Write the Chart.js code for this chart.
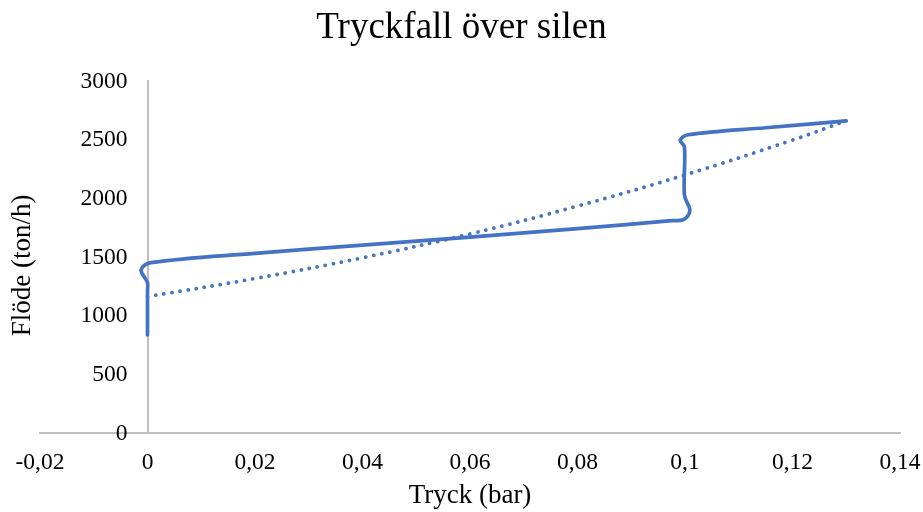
<!DOCTYPE html>
<html>
<head>
<meta charset="utf-8">
<script src="https://cdn.jsdelivr.net/npm/chart.js@4"></script>
<style>
html,body{margin:0;padding:0;background:#fff;}
#wrap{width:923px;height:512px;}
</style>
</head>
<body>
<div id="wrap"><canvas id="c" width="923" height="512"></canvas></div>
<script>
const chartTitle = 'Tryckfall över silen';
const xTitle = 'Tryck (bar)';
const yTitle = 'Flöde (ton/h)';

// Measured series (Tryck in bar, Flöde in ton/h)
const flowX = [0, 0, 0, -0.0012, 0.0006, 0.02, 0.04, 0.06, 0.08, 0.097, 0.0998, 0.1009, 0.0999, 0.0999, 0.0991, 0.1006, 0.115, 0.13];
const flowY = [840, 1220, 1285, 1395, 1455, 1535, 1604, 1673, 1745, 1812, 1824, 1900, 2030, 2440, 2500, 2545, 2605, 2663];

// Trendline
const trendX = [0, 0.02, 0.04, 0.06, 0.08, 0.1, 0.12, 0.13];
const trendY = [1166, 1320, 1497, 1700, 1937, 2203, 2500, 2665];

const xTicks = [-0.02, 0, 0.02, 0.04, 0.06, 0.08, 0.1, 0.12, 0.14];
const yTicks = [0, 500, 1000, 1500, 2000, 2500, 3000];

const FONT = "'Liberation Serif', 'Times New Roman', serif";
const BLUE = '#4472C4';
const AXIS = '#BFBFBF';
const Y_LABEL_GAP = -0.0037; // where the value labels of the vertical axis sit (bar)

const toPts = (xs, ys) => xs.map((x, i) => ({x: x, y: ys[i]}));

const yTitlePlugin = {
  id: 'yTitlePlugin',
  afterDraw(chart) {
    const {ctx, chartArea} = chart;
    ctx.save();
    ctx.font = '27px ' + FONT;
    ctx.fillStyle = '#000';
    ctx.textAlign = 'center';
    ctx.textBaseline = 'middle';
    ctx.translate(23, (chartArea.top + chartArea.bottom) / 2 + 8);
    ctx.rotate(-Math.PI / 2);
    ctx.fillText(yTitle, 0, 0);
    ctx.restore();
  }
};

new Chart(document.getElementById('c'), {
  type: 'scatter',
  data: {
    datasets: [
      {
        data: toPts(flowX, flowY),
        showLine: true,
        borderColor: BLUE,
        borderWidth: 3.7,
        pointRadius: 0,
        tension: 0.35,
        borderCapStyle: 'round',
        borderJoinStyle: 'round'
      },
      {
        data: toPts(trendX, trendY),
        showLine: true,
        borderColor: BLUE,
        borderWidth: 3.8,
        borderDash: [0.01, 8.2],
        borderCapStyle: 'round',
        pointRadius: 0,
        tension: 0.4
      }
    ]
  },
  plugins: [yTitlePlugin],
  options: {
    responsive: false,
    animation: false,
    devicePixelRatio: 1,
    layout: {padding: {left: 23, right: 23, top: 6, bottom: 0}},
    plugins: {
      legend: {display: false},
      tooltip: {enabled: false},
      title: {
        display: true,
        text: chartTitle,
        color: '#000',
        font: {family: FONT, size: 37, weight: 'normal'},
        padding: {top: 0, bottom: 31}
      }
    },
    scales: {
      x: {
        type: 'linear',
        min: -0.02,
        max: 0.14,
        afterBuildTicks: (s) => { s.ticks = xTicks.map(v => ({value: v})); },
        afterFit: (s) => { s.paddingLeft = 0; s.paddingRight = 0; },
        grid: {display: false, drawTicks: false},
        border: {display: true, color: AXIS, width: 2},
        ticks: {
          color: '#000',
          font: {family: FONT, size: 23.5},
          padding: 15,
          maxRotation: 0,
          callback: (v) => String(Math.round(v * 100) / 100).replace('.', ',')
        },
        title: {
          display: true,
          text: xTitle,
          color: '#000',
          font: {family: FONT, size: 27},
          padding: {top: -12, bottom: 0}
        }
      },
      y: {
        type: 'linear',
        position: {x: 0},
        min: 0,
        max: 3000,
        afterBuildTicks: (s) => { s.ticks = yTicks.map(v => ({value: v})); },
        grid: {display: false, drawTicks: false},
        border: {display: true, color: AXIS, width: 2},
        ticks: {display: false}
      },
      yLabels: {
        type: 'linear',
        axis: 'y',
        position: {x: Y_LABEL_GAP},
        min: 0,
        max: 3000,
        afterBuildTicks: (s) => { s.ticks = yTicks.map(v => ({value: v})); },
        grid: {display: false, drawTicks: false},
        border: {display: false},
        ticks: {
          color: '#000',
          font: {family: FONT, size: 23.5},
          padding: 0,
          callback: (v) => String(v)
        }
      },
      ySpace: {
        type: 'linear',
        axis: 'y',
        position: 'left',
        min: 0,
        max: 3000,
        grid: {display: false, drawTicks: false},
        border: {display: false},
        ticks: {display: false},
        afterFit: (s) => { s.width = 17; }
      }
    }
  }
});
</script>
</body>
</html>
